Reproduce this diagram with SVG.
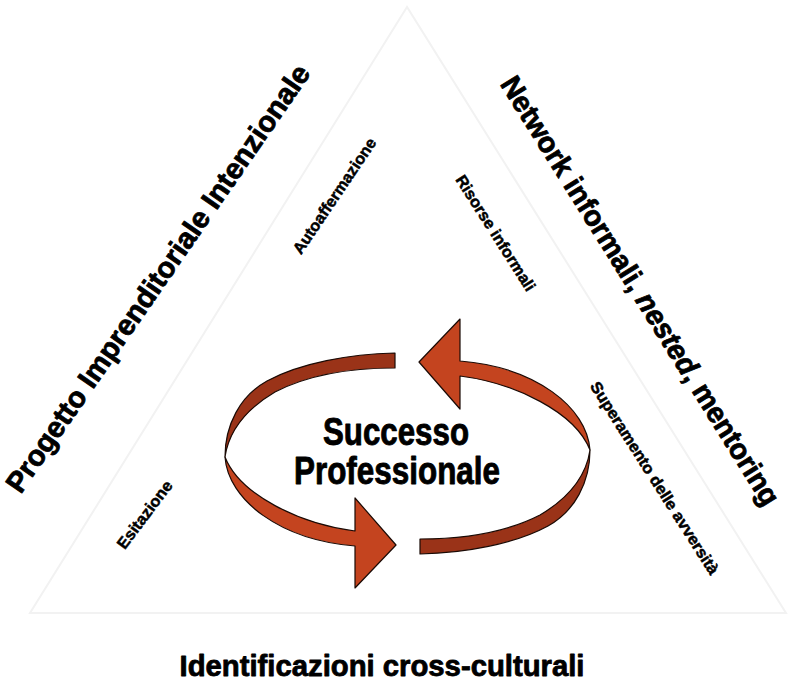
<svg xmlns="http://www.w3.org/2000/svg" width="788" height="685" viewBox="0 0 788 685">
<defs>
<filter id="soft" x="-5%" y="-50%" width="110%" height="200%"><feGaussianBlur stdDeviation="0.8"/></filter>
<style>
.t{font-family:"Liberation Sans",Arial,sans-serif;font-weight:bold;fill:#000;stroke:#000;stroke-linejoin:round;}
.title{font-size:29px;stroke-width:0.8;}
.small{font-size:16px;stroke-width:0.5;}
.center{font-size:38px;stroke-width:0.9;}
.dark{fill:#9a3318;stroke:#1a0a05;stroke-width:1.2;stroke-linejoin:round;}
.bright{fill:#c4441f;stroke:#1a0a05;stroke-width:1.2;stroke-linejoin:round;}
</style>
</defs>
<rect width="788" height="685" fill="#fff"/>
<g id="triangle">
<polygon points="407,7 30,613 786,613" fill="#fff" stroke="#f2f2f2" stroke-width="2"/>
<line x1="30" y1="615" x2="786" y2="615" stroke="#bdbdbd" stroke-width="3" filter="url(#soft)"/>
</g>
<g id="connectors">
<g id="arrow-left">
<path class="dark" d="M395,353 C350,354 300,363 267,381 C240,396 225,425 225,457 C229,430 248,408 275,392 C310,374 350,368 395,368 Z"/>
<path class="bright" d="M225,457 C228,500 280,540 355,546 L355,588 L396,545 L355,498 L355,531 C300,524 240,495 225,457 Z"/>
</g>
<g id="arrow-right" transform="rotate(180 407.5 453.5)">
<path class="dark" d="M395,353 C350,354 300,363 267,381 C240,396 225,425 225,457 C229,430 248,408 275,392 C310,374 350,368 395,368 Z"/>
<path class="bright" d="M225,457 C228,500 280,540 355,546 L355,588 L396,545 L355,498 L355,531 C300,524 240,495 225,457 Z"/>
</g>
</g>
<g id="side-left">
<text class="t title" text-anchor="middle" textLength="512" lengthAdjust="spacingAndGlyphs" transform="translate(166,284) rotate(-55.4)">Progetto Imprenditoriale Intenzionale</text>
</g>
<g id="side-right">
<text class="t title" text-anchor="middle" textLength="500" lengthAdjust="spacingAndGlyphs" transform="translate(632,296) rotate(58)">Network informali, <tspan font-style="italic">nested</tspan>, mentoring</text>
</g>
<g id="side-bottom">
<text class="t title" x="382" y="676" text-anchor="middle" textLength="405" lengthAdjust="spacingAndGlyphs">Identificazioni cross-culturali</text>
</g>
<g id="autoaffermazione">
<text class="t small" text-anchor="middle" textLength="136" lengthAdjust="spacingAndGlyphs" transform="translate(339,199) rotate(-56)">Autoaffermazione</text>
</g>
<g id="risorse">
<text class="t small" text-anchor="middle" textLength="134" lengthAdjust="spacingAndGlyphs" transform="translate(491,236) rotate(57.5)">Risorse informali</text>
</g>
<g id="esitazione">
<text class="t small" text-anchor="middle" textLength="81" lengthAdjust="spacingAndGlyphs" transform="translate(149,518) rotate(-53)">Esitazione</text>
</g>
<g id="superamento">
<text class="t small" text-anchor="middle" textLength="225" lengthAdjust="spacingAndGlyphs" transform="translate(650,481) rotate(57.5)">Superamento delle avversità</text>
</g>
<g id="successo">
<text class="t center" x="396" y="445" text-anchor="middle" textLength="146" lengthAdjust="spacingAndGlyphs">Successo</text>
<text class="t center" x="397" y="484" text-anchor="middle" textLength="206" lengthAdjust="spacingAndGlyphs">Professionale</text>
</g>
</svg>
